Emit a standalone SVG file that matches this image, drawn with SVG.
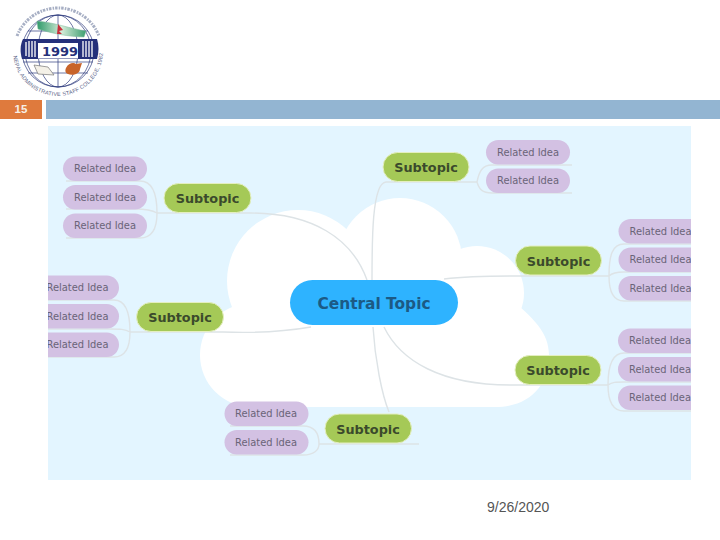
<svg xmlns="http://www.w3.org/2000/svg" width="720" height="540" viewBox="0 0 720 540">
<style>
.sub rect{fill:#a5c957;stroke:#e4efc0;stroke-width:1}
.sub text{font:bold 12.8px "DejaVu Sans",sans-serif;fill:#3b4a2c;text-anchor:middle}
.rel rect{fill:#d3c1e3}
.rel text{font:9.9px "DejaVu Sans",sans-serif;fill:#6a6478;text-anchor:middle}
.cen rect{fill:#2eb3ff}
.cen text{font:bold 15.4px "DejaVu Sans",sans-serif;fill:#1c5a85;text-anchor:middle}
.con path{fill:none;stroke:#dde3e6;stroke-width:1.4}
.geo{fill:none;stroke:#2f3c7e;stroke-width:.7}
</style>
<defs>
<clipPath id="panel"><rect x="48" y="126" width="643" height="354"/></clipPath>
<path id="arcB" d="M13 51A45 45 0 0 0 103 51"/>
<linearGradient id="ribbon" x1="0" x2="1"><stop offset="0" stop-color="#2f9a6a"/><stop offset=".5" stop-color="#d5ecd8"/><stop offset="1" stop-color="#3c9f70"/></linearGradient>
</defs>
<rect width="720" height="540" fill="#fff"/>
<g id="logo">
<circle class="geo" cx="58" cy="51" r="36"/>
<ellipse class="geo" cx="58" cy="51" rx="20" ry="36"/>
<ellipse class="geo" cx="58" cy="51" rx="33" ry="36"/>
<path class="geo" d="M58 15V87M28 31H88M23 42H93M23 62H93M28 73H88"/>
<path d="M17 36A44 44 0 0 1 99 36" fill="none" stroke="#6d7a9c" stroke-width="3" stroke-dasharray="2.500 1.200 1.500 1" opacity=".6"/>
<path d="M37 21C52 22 72 29 86 31L84 37C70 37 50 33 38 29Z" fill="url(#ribbon)" stroke="#7db79a" stroke-width=".5"/>
<path d="M58 24L63 30L59 31L62 34H57Z" fill="#c8303c"/>
<path d="M22 59C20 52 20 45 23 39H97C99 45 99 52 97 59Z" fill="#25307a"/>
<path d="M26 42V56M29 41V57M32 41V57M35 41V57M83 41V57M86 41V57M89 41V57M92 41V57" stroke="#fff" stroke-width="1.300"/>
<rect x="38" y="43" width="40" height="15.500" fill="#fff"/>
<text x="60" y="56" font-family="'DejaVu Sans',sans-serif" font-weight="bold" font-size="13" fill="#25307a" text-anchor="middle">1999</text>
<path d="M34 65L48 67L54 75L38 74Z" fill="#f4f1e8" stroke="#777" stroke-width=".7"/>
<path d="M66 68C68 63 74 62 76 64L82 63L80 69C80 74 72 76 68 74C65 73 65 70 66 68Z" fill="#c8642a"/>
<text font-family="'Liberation Sans',sans-serif" font-size="5.500" fill="#5a6488" letter-spacing=".2"><textPath href="#arcB" startOffset="5">NEPAL ADMINISTRATIVE STAFF COLLEGE, 1982</textPath></text>
</g>
<g id="pagebar">
<rect x="0" y="100" width="42" height="19" fill="#df7a3d"/>
<text x="21" y="113" font-family="'Liberation Sans',sans-serif" font-weight="bold" font-size="11.500" fill="#f7efe6" text-anchor="middle">15</text>
<rect x="46" y="100" width="674" height="19" fill="#93b5d2"/>
</g>
<rect x="48" y="126" width="643" height="354" fill="#e3f5ff"/>
<g id="cloud" fill="#fff">
<circle cx="298" cy="281" r="71"/>
<circle cx="400" cy="260" r="62"/>
<circle cx="477" cy="293" r="47"/>
<circle cx="252" cy="355" r="52"/>
<path d="M252 290H500C530 315 549 330 549 355C549 385 530 407 495 407H252Z"/>
</g>
<g clip-path="url(#panel)">
<g class="con" id="connectors">
<path d="M367 280C352 238 312 213 250 213H157"/>
<path d="M157 213C157 196 153 181 140 181H66M157 213C152 210 147 209 135 209H66M157 213C157 228 153 238 140 238H66"/>
<path d="M311 327C282 332 250 333 223 332H130"/>
<path d="M130 332C130 314 126 300 114 300H48M130 332C125 329 120 329 110 329H48M130 332C130 346 126 357 114 357H48"/>
<path d="M372 280C372 240 372 183 386 182H477"/>
<path d="M477 182C479 172 482 165 492 165H572M477 182C479 189 482 193 492 193H572"/>
<path d="M444 279C470 276 490 276 515 276H609"/>
<path d="M609 276C609 256 612 244 624 244H691M609 276C612 273 616 272 624 272H691M609 276C609 290 612 301 624 301H691"/>
<path d="M384 327C400 360 440 386 515 385H608"/>
<path d="M608 385C608 365 612 353 624 353H691M608 385C612 382 616 382 624 382H691M608 385C608 399 612 411 624 411H691"/>
<path d="M373 327C375 360 382 395 389 412"/>
<path d="M319 444H419"/>
<path d="M319 444C319 434 315 426 303 426H230M319 444C319 450 314 455 303 455H230"/>
</g>
<g id="central" class="cen"><rect x="290" y="280" width="168" height="45" rx="22.500"/><text x="374" y="309">Central Topic</text></g>
<g id="sub1" class="sub"><rect x="164" y="183.500" width="87" height="29" rx="14.500"/><text x="207.500" y="203">Subtopic</text></g>
<g id="sub2" class="sub"><rect x="136.500" y="302.500" width="87" height="29" rx="14.500"/><text x="180" y="322">Subtopic</text></g>
<g id="sub3" class="sub"><rect x="383" y="152.500" width="86" height="29" rx="14.500"/><text x="426" y="172">Subtopic</text></g>
<g id="sub4" class="sub"><rect x="515.500" y="246" width="86" height="29" rx="14.500"/><text x="558.500" y="265.500">Subtopic</text></g>
<g id="sub5" class="sub"><rect x="515" y="355.500" width="86" height="29" rx="14.500"/><text x="558" y="375">Subtopic</text></g>
<g id="sub6" class="sub"><rect x="325" y="414" width="86.500" height="29" rx="14.500"/><text x="368" y="433.500">Subtopic</text></g>
<g id="rel1a" class="rel"><rect x="63" y="156.500" width="84" height="24.500" rx="12.250"/><text x="105" y="172.300">Related Idea</text></g>
<g id="rel1b" class="rel"><rect x="63" y="185" width="84" height="24.500" rx="12.250"/><text x="105" y="200.800">Related Idea</text></g>
<g id="rel1c" class="rel"><rect x="63" y="213.500" width="84" height="24.500" rx="12.250"/><text x="105" y="229.300">Related Idea</text></g>
<g id="rel2a" class="rel"><rect x="35" y="275.500" width="84" height="24.500" rx="12.250"/><text x="77.500" y="291.300">Related Idea</text></g>
<g id="rel2b" class="rel"><rect x="35" y="304" width="84" height="24.500" rx="12.250"/><text x="77.500" y="319.800">Related Idea</text></g>
<g id="rel2c" class="rel"><rect x="35" y="332.500" width="84" height="24.500" rx="12.250"/><text x="77.500" y="348.300">Related Idea</text></g>
<g id="rel3a" class="rel"><rect x="486" y="140" width="84" height="24.500" rx="12.250"/><text x="528" y="155.800">Related Idea</text></g>
<g id="rel3b" class="rel"><rect x="486" y="168.500" width="84" height="24.500" rx="12.250"/><text x="528" y="184.300">Related Idea</text></g>
<g id="rel4a" class="rel"><rect x="618.500" y="219" width="84" height="24.500" rx="12.250"/><text x="660.500" y="234.800">Related Idea</text></g>
<g id="rel4b" class="rel"><rect x="618.500" y="247.500" width="84" height="24.500" rx="12.250"/><text x="660.500" y="263.300">Related Idea</text></g>
<g id="rel4c" class="rel"><rect x="618.500" y="276" width="84" height="24.500" rx="12.250"/><text x="660.500" y="291.800">Related Idea</text></g>
<g id="rel5a" class="rel"><rect x="618" y="328.500" width="84" height="24.500" rx="12.250"/><text x="660" y="344.300">Related Idea</text></g>
<g id="rel5b" class="rel"><rect x="618" y="357" width="84" height="24.500" rx="12.250"/><text x="660" y="372.800">Related Idea</text></g>
<g id="rel5c" class="rel"><rect x="618" y="385.500" width="84" height="24.500" rx="12.250"/><text x="660" y="401.300">Related Idea</text></g>
<g id="rel6a" class="rel"><rect x="224.500" y="401.500" width="84" height="24.500" rx="12.250"/><text x="266" y="417.300">Related Idea</text></g>
<g id="rel6b" class="rel"><rect x="224.500" y="430" width="84" height="24.500" rx="12.250"/><text x="266" y="445.800">Related Idea</text></g>
</g>
<text id="date" x="487" y="512" font-family="'Liberation Sans',sans-serif" font-size="14" fill="#555">9/26/2020</text>
</svg>
